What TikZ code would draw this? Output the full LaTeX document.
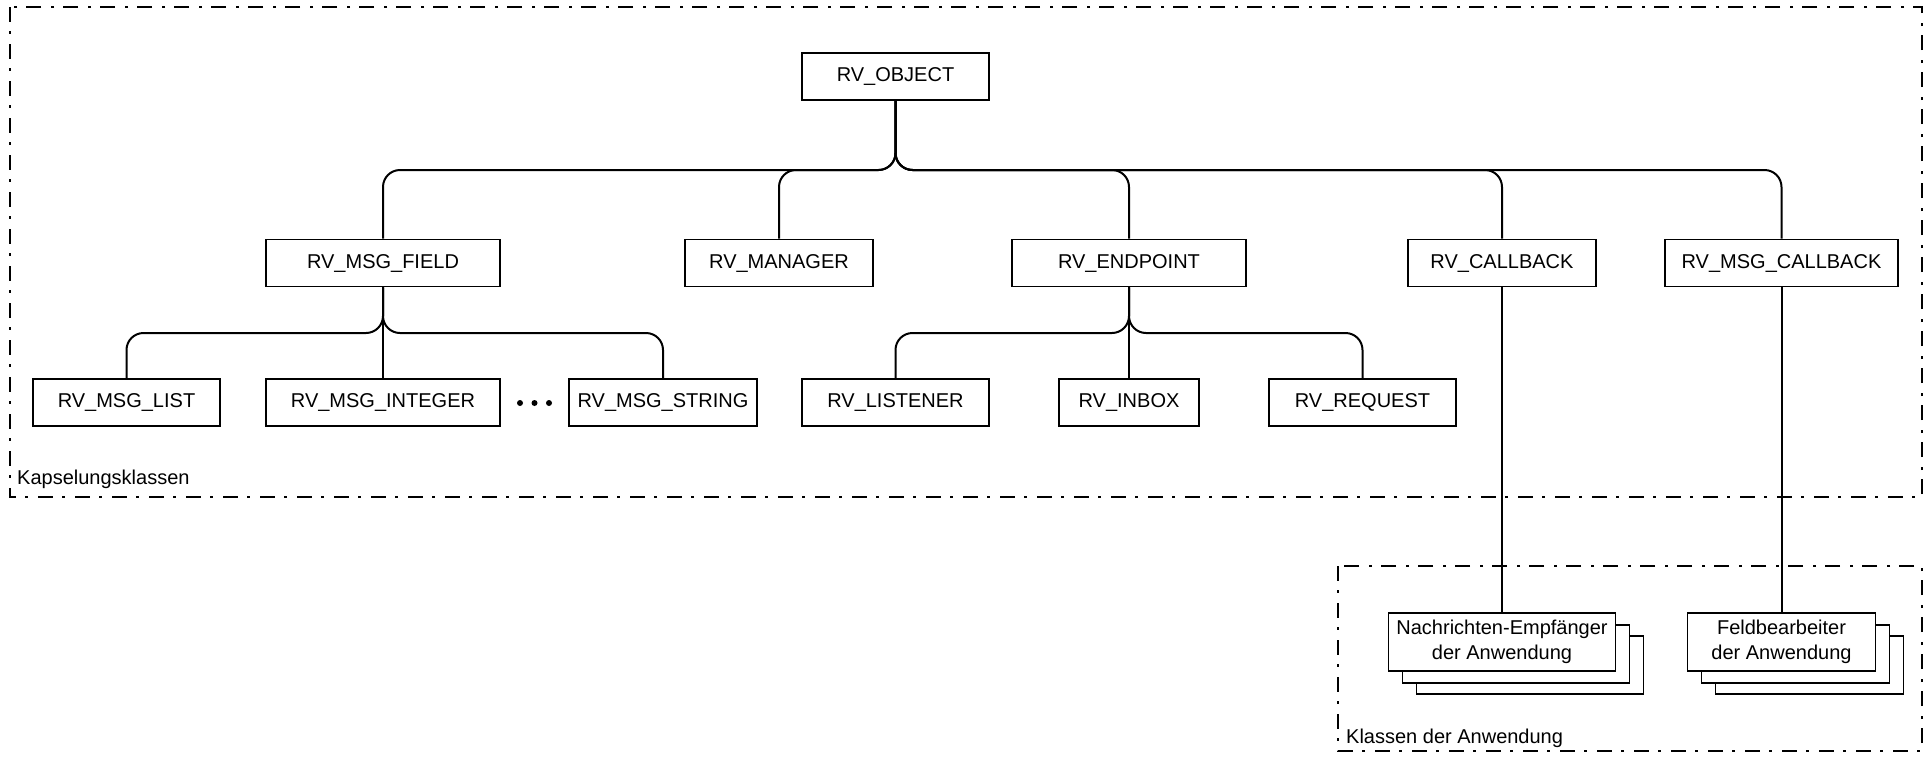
\documentclass[tikz,border=0pt]{standalone}
\usepackage{fontspec}
\setmainfont{Liberation Sans}
\begin{document}
\begin{tikzpicture}[x=1pt,y=-1pt,
  every node/.style={font=\fontsize{20}{23}\selectfont},
  cls/.style={draw,line width=1.8pt,minimum height=47pt,inner sep=0pt,fill=white},
  appcls/.style={draw,line width=1.8pt,minimum height=58pt,inner sep=0pt,fill=white,align=center,
    font=\fontsize{20}{25}\selectfont},
  conn/.style={line width=2pt,rounded corners=17pt},
  frame/.style={line width=2pt,dash pattern=on 15pt off 9pt on 3pt off 10pt},
  lbl/.style={anchor=base west,inner sep=0pt}]
\useasboundingbox (0,0) rectangle (1928,756);

% package frames
\draw[frame] (10,7) rectangle (1922,497);
\draw[frame] (1338,566) rectangle (1922,751);
\node[lbl] (lblwrap) at (17,484) {Kapselungsklassen};
\node[lbl] (lblapp) at (1346,743) {Klassen der Anwendung};

% bus levels
\coordinate (busA) at (0,170);
\coordinate (busB) at (0,333);

% class boxes
\node[cls,minimum width=187pt] (obj) at (895.5,76.5) {RV\_OBJECT};

\node[cls,minimum width=234pt] (field)    at (383,263)  {RV\_MSG\_FIELD};
\node[cls,minimum width=188pt] (manager)  at (779,263)  {RV\_MANAGER};
\node[cls,minimum width=234pt] (endpoint) at (1129,263) {RV\_ENDPOINT};
\node[cls,minimum width=188pt] (callback) at (1502,263) {RV\_CALLBACK};
\node[cls,minimum width=233pt] (msgcb)    at (1781.5,263) {RV\_MSG\_CALLBACK};

\node[cls,minimum width=187pt] (list)     at (126.5,402.5) {RV\_MSG\_LIST};
\node[cls,minimum width=234pt] (integer)  at (383,402.5)   {RV\_MSG\_INTEGER};
\node[cls,minimum width=188pt] (string)   at (663,402.5)   {RV\_MSG\_STRING};
\node[cls,minimum width=187pt] (listener) at (895.5,402.5) {RV\_LISTENER};
\node[cls,minimum width=140pt] (inbox)    at (1129,402.5)  {RV\_INBOX};
\node[cls,minimum width=187pt] (request)  at (1362.5,402.5) {RV\_REQUEST};

% ellipsis between field subclasses
\fill (520,403) circle (3pt) (534.5,403) circle (3pt) (549,403) circle (3pt);

% application classes (stacked)
\node[appcls,minimum width=227pt] (recvB2) at (1530,665) {};
\node[appcls,minimum width=227pt] (recvB1) at (1516,654) {};
\node[appcls,minimum width=227pt] (recv)   at (1502,642) {Nachrichten-Empfänger\\der Anwendung};
\node[appcls,minimum width=188pt] (fhB2) at (1809.5,665) {};
\node[appcls,minimum width=188pt] (fhB1) at (1795.5,654) {};
\node[appcls,minimum width=188pt] (fh)   at (1781.5,642) {Feldbearbeiter\\der Anwendung};

% inheritance connectors
\foreach \c in {field,manager,endpoint,callback,msgcb}
  \draw[conn] (obj.south) -- (obj.south |- busA) -| (\c.north);
\foreach \c in {list,string}
  \draw[conn] (field.south) -- (field.south |- busB) -| (\c.north);
\draw[conn] (field.south) -- (integer.north);
\foreach \c in {listener,request}
  \draw[conn] (endpoint.south) -- (endpoint.south |- busB) -| (\c.north);
\draw[conn] (endpoint.south) -- (inbox.north);

\draw[conn] (callback.south) -- (recv.north);
\draw[conn] (msgcb.south) -- (fh.north);
\end{tikzpicture}
\end{document}
